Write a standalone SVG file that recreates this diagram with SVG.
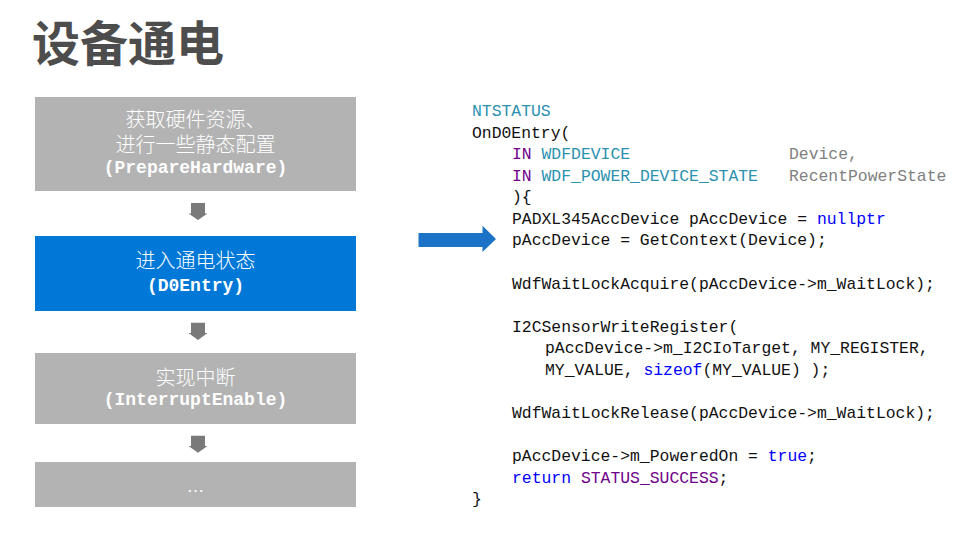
<svg xmlns="http://www.w3.org/2000/svg" width="979" height="551" viewBox="0 0 979 551">
<style>
.title{font-family:"Noto Sans CJK SC","Noto Sans",sans-serif;font-size:48px;font-weight:700;fill:#4d4d4d}
.box-gray{fill:#b3b3b3}
.box-blue{fill:#0078d7}
.lbl{font-family:"Liberation Sans","Noto Sans CJK SC",sans-serif;font-size:20px;font-weight:300;fill:#ffffff;text-anchor:middle}
.mono{font-family:"Liberation Mono","DejaVu Sans Mono",monospace;font-size:18px;font-weight:700}
.dots{font-family:"Liberation Sans",sans-serif;font-size:18px;fill:#ffffff;text-anchor:middle}
.code{font-family:"Liberation Mono","DejaVu Sans Mono",monospace;font-size:16.4px;fill:#111111;white-space:pre}
.ty{fill:#2b91af}
.kw{fill:#0000ff}
.pp{fill:#6f008a}
.pr{fill:#808080}
.darr{fill:#7a7a7a}
.barr{fill:#1b72c6}
</style>
<text class="title" x="32" y="61">设备通电</text>

<g id="node-prepare">
<rect class="box-gray" x="35" y="97" width="321" height="94"/>
<text class="lbl"><tspan x="195.5" y="126.5">获取硬件资源、</tspan><tspan x="195.5" y="152">进行一些静态配置</tspan><tspan class="mono" x="195.5" y="172.5">(PrepareHardware)</tspan></text>
</g>
<g id="node-d0entry">
<rect class="box-blue" x="35" y="236" width="321" height="75"/>
<text class="lbl"><tspan x="195.5" y="268">进入通电状态</tspan><tspan class="mono" x="195.5" y="291">(D0Entry)</tspan></text>
</g>
<g id="node-interrupt">
<rect class="box-gray" x="35" y="353" width="321" height="71"/>
<text class="lbl"><tspan x="195.5" y="385">实现中断</tspan><tspan class="mono" x="195.5" y="405">(InterruptEnable)</tspan></text>
</g>
<g id="node-more">
<rect class="box-gray" x="35" y="462" width="321" height="45"/>
<text class="dots" x="195.5" y="492">…</text>
</g>

<g id="code">
<text class="code" x="472" y="116"><tspan class="ty">NTSTATUS</tspan></text>
<text class="code" x="472" y="137.6">OnD0Entry(</text>
<text class="code" x="512" y="159.1"><tspan class="pp">IN</tspan> <tspan class="ty">WDFDEVICE</tspan><tspan class="pr" x="789">Device,</tspan></text>
<text class="code" x="512" y="180.7"><tspan class="pp">IN</tspan> <tspan class="ty">WDF_POWER_DEVICE_STATE</tspan><tspan class="pr" x="789">RecentPowerState</tspan></text>
<text class="code" x="512" y="202.2">){</text>
<text class="code" x="512" y="223.8">PADXL345AccDevice pAccDevice = <tspan class="kw">nullptr</tspan></text>
<text class="code" x="512" y="245.4">pAccDevice = GetContext(Device);</text>
<text class="code" x="512" y="288.5">WdfWaitLockAcquire(pAccDevice-&gt;m_WaitLock);</text>
<text class="code" x="512" y="331.6">I2CSensorWriteRegister(</text>
<text class="code" x="545" y="353.2">pAccDevice-&gt;m_I2CIoTarget, MY_REGISTER,</text>
<text class="code" x="545" y="374.7">MY_VALUE, <tspan class="kw">sizeof</tspan>(MY_VALUE) );</text>
<text class="code" x="512" y="417.8">WdfWaitLockRelease(pAccDevice-&gt;m_WaitLock);</text>
<text class="code" x="512" y="461">pAccDevice-&gt;m_PoweredOn = <tspan class="kw">true</tspan>;</text>
<text class="code" x="512" y="482.5"><tspan class="kw">return</tspan> <tspan class="pp">STATUS_SUCCESS</tspan>;</text>
<text class="code" x="472" y="504.1">}</text>
</g>

<g id="connectors">
<path class="darr" d="M191,203 H205 V213.5 H207.5 L198,220 L188.5,213.5 H191 Z"/>
<path class="darr" d="M191,322.7 H205 V333 H207.5 L198,340 L188.5,333 H191 Z"/>
<path class="darr" d="M191,435.7 H205 V446 H207.5 L198,452.7 L188.5,446 H191 Z"/>
<path class="barr" d="M418.5,233 H482.5 V225.7 L496,239 L482.5,252 V247 H418.5 Z"/>
</g>
</svg>
